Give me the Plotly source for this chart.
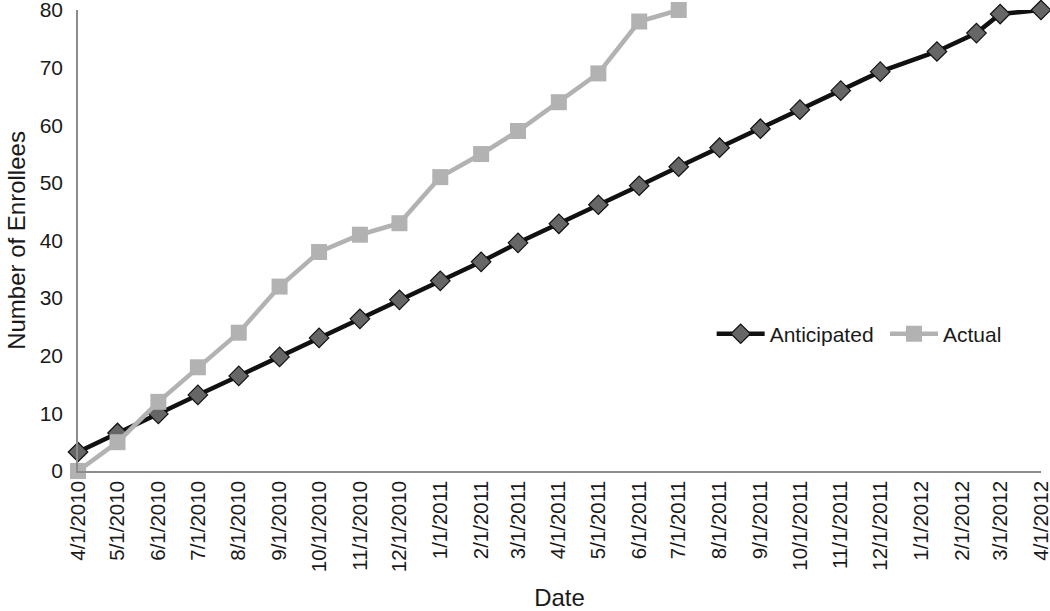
import plotly.graph_objects as go

anticipated_dates = [
    "2010-04-01", "2010-05-01", "2010-06-01", "2010-07-01", "2010-08-01",
    "2010-09-01", "2010-10-01", "2010-11-01", "2010-12-01", "2011-01-01",
    "2011-02-01", "2011-03-01", "2011-04-01", "2011-05-01", "2011-06-01",
    "2011-07-01", "2011-08-01", "2011-09-01", "2011-10-01", "2011-11-01",
    "2011-12-01", "2012-01-13", "2012-02-12", "2012-03-01", "2012-04-01",
]
anticipated = [3.3, 6.6, 9.9, 13.2, 16.5, 19.8, 23.1, 26.4, 29.7, 33.0,
               36.3, 39.6, 42.9, 46.2, 49.5, 52.8, 56.1, 59.4, 62.7, 66.0,
               69.3, 72.8, 76.0, 79.3, 80.0]

actual_dates = [
    "2010-04-01", "2010-05-01", "2010-06-01", "2010-07-01", "2010-08-01",
    "2010-09-01", "2010-10-01", "2010-11-01", "2010-12-01", "2011-01-01",
    "2011-02-01", "2011-03-01", "2011-04-01", "2011-05-01", "2011-06-01",
    "2011-07-01",
]
actual = [0, 5, 12, 18, 24, 32, 38, 41, 43, 51, 55, 59, 64, 69, 78, 80]

y_ticks = [0, 10, 20, 30, 40, 50, 60, 70, 80]

FONT = "Liberation Sans, Arial, Helvetica, sans-serif"

fig = go.Figure()
fig.add_trace(go.Scatter(
    x=anticipated_dates, y=anticipated, name="Anticipated",
    mode="lines+markers", legend="legend",
    line=dict(color="#111111", width=4.5),
    marker=dict(symbol="diamond", size=15, color="#666666",
                line=dict(color="#111111", width=1.2)),
    cliponaxis=False,
))
fig.add_trace(go.Scatter(
    x=actual_dates, y=actual, name="Actual",
    mode="lines+markers", legend="legend2",
    line=dict(color="#b2b2b2", width=4.5),
    marker=dict(symbol="square", size=16, color="#b2b2b2",
                line=dict(color="#b2b2b2", width=0)),
    cliponaxis=False,
))

legend_common = dict(orientation="h", xanchor="left", yanchor="middle",
                     font=dict(size=21), bgcolor="rgba(0,0,0,0)",
                     itemwidth=48)

fig.update_layout(
    width=1050, height=611,
    margin=dict(l=78, r=9, t=10, b=140),
    paper_bgcolor="white", plot_bgcolor="white",
    font=dict(family=FONT, color="#1a1a1a", size=21),
    legend=dict(x=0.658, y=0.297, **legend_common),
    legend2=dict(x=0.838, y=0.297, **legend_common),
    showlegend=True,
)
fig.update_xaxes(
    type="date",
    range=["2010-04-01", "2012-04-01"],
    tick0="2010-04-01", dtick="M1",
    tickformat="%-m/%-d/%Y", tickangle=-90,
    tickfont=dict(size=20.5, family=FONT),
    ticklabeloverflow="allow", automargin=False,
    showgrid=False, zeroline=False,
    showline=True, linecolor="#8c8c8c", linewidth=1.5,
    ticks="", ticklen=0,
    title=dict(text="Date", font=dict(size=24), standoff=23),
)
fig.update_yaxes(
    range=[0, 80], tickmode="array", tickvals=y_ticks,
    ticktext=[str(v) for v in y_ticks],
    tickfont=dict(size=21, family=FONT),
    ticklabeloverflow="allow", automargin=False,
    showgrid=False, zeroline=False,
    showline=True, linecolor="#8c8c8c", linewidth=1.5,
    ticks="", ticklabelstandoff=9,
    title=dict(text="Number of Enrollees", font=dict(size=24), standoff=7),
)

fig.write_html("out.html",
               config={"displayModeBar": False},
               post_script="document.body.style.margin='0';"
                           "document.body.style.overflow='hidden';")
